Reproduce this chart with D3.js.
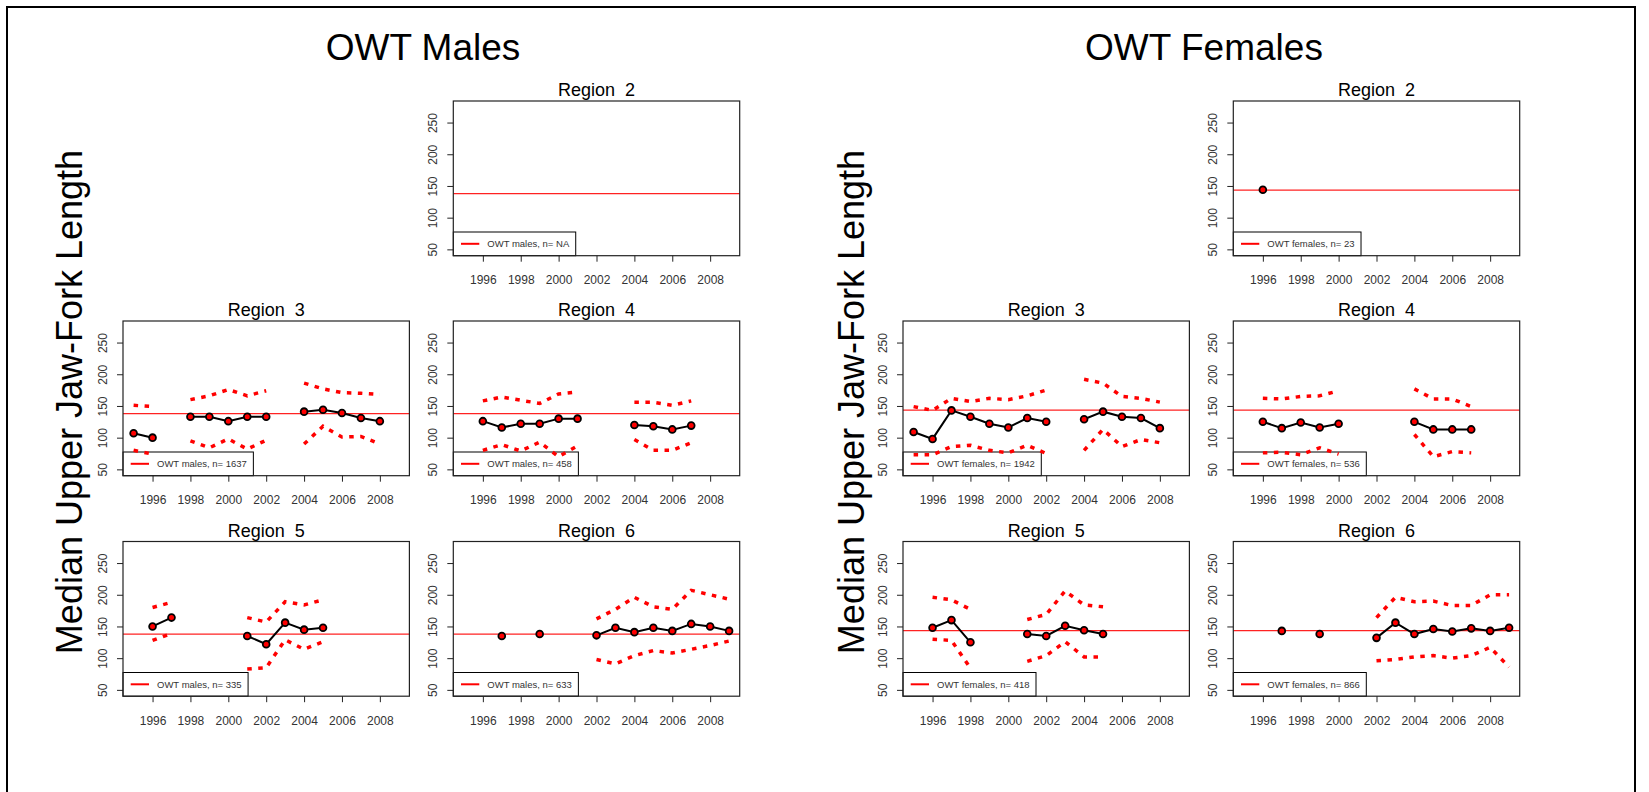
<!DOCTYPE html>
<html>
<head>
<meta charset="utf-8">
<script src="https://cdn.jsdelivr.net/npm/d3@7"></script>
<style>
  html, body { margin: 0; padding: 0; background: #fff; }
  svg { display: block; font-family: "Liberation Sans", Arial, sans-serif; }
</style>
</head>
<body>
<script>
// ---------------- DATA ----------------
const years = [1995,1996,1997,1998,1999,2000,2001,2002,2003,2004,2005,2006,2007,2008,2009];
const xTicks = [1996,1998,2000,2002,2004,2006,2008];
const yTicks = [50,100,150,200,250];
const groupTitles = ["OWT Males", "OWT Females"];
const yLabel = "Median Upper Jaw-Fork Length";
const refMales = 138;
const refFemales = 143.5;

const N = null;
// Males
const mR2Median = [N,N,N,N,N,N,N,N,N,N,N,N,N,N,N];
const mR2Upper  = [N,N,N,N,N,N,N,N,N,N,N,N,N,N,N];
const mR2Lower  = [N,N,N,N,N,N,N,N,N,N,N,N,N,N,N];
const mR3Median = [107,100,N,133,133,126,133,133,N,141,144,139,131,126,N];
const mR3Upper  = [151,149,N,160,166,176,166,174,N,186,177,171,170,168,N];
const mR3Lower  = [80,74,N,95,84,98,82,96,N,90,118,101,102,90,N];
const mR4Median = [N,126,116,122,122,130,130,N,N,120,118,113,119,N,N];
const mR4Upper  = [N,158,164,159,154,169,172,N,N,156,156,151,158,N,N];
const mR4Lower  = [N,80,89,79,93,70,87,N,N,97,80,80,92,N,N];
const mR5Median = [N,150,164,N,N,N,135,122,156,145,148,N,N,N,N];
const mR5Upper  = [N,180,188,N,N,N,164,157,189,184,192,N,N,N,N];
const mR5Lower  = [N,128,139,N,N,N,83,85,129,114,126,N,N,N,N];
const mR6Median = [N,N,135,N,138,N,N,136,148,141,148,143,154,150,143];
const mR6Upper  = [N,N,N,N,N,N,N,162,177,196,181,177,207,200,193];
const mR6Lower  = [N,N,N,N,N,N,N,98,91,104,112,108,114,120,127];
// Females
const fR2Median = [N,144,N,N,N,N,N,N,N,N,N,N,N,N,N];
const fR2Upper  = [N,N,N,N,N,N,N,N,N,N,N,N,N,N,N];
const fR2Lower  = [N,N,N,N,N,N,N,N,N,N,N,N,N,N,N];
const fR3Median = [109,98,143,133,122,116,131,125,N,129,141,133,131,115,N];
const fR3Upper  = [149,143,162,157,162,160,166,175,N,192,186,165,162,156,N];
const fR3Lower  = [73,73,86,88,80,76,88,75,N,80,113,86,97,92,N];
const fR4Median = [N,125,115,124,116,122,N,N,N,125,113,113,113,N,N];
const fR4Upper  = [N,162,161,165,166,174,N,N,N,177,161,161,149,N,N];
const fR4Lower  = [N,76,77,73,84,74,N,N,N,105,70,78,76,N,N];
const fR5Median = [N,148,160,125,N,N,138,135,151,144,138,N,N,N,N];
const fR5Upper  = [N,196,192,177,N,N,161,169,206,184,181,N,N,N,N];
const fR5Lower  = [N,130,128,84,N,N,95,104,126,102,102,N,N,N,N];
const fR6Median = [N,N,143,N,138,N,N,132,156,138,146,142,147,143,148];
const fR6Upper  = [N,N,N,N,N,N,N,164,196,189,190,183,183,200,200];
const fR6Lower  = [N,N,N,N,N,N,N,96,98,102,104,100,104,117,86];

const regionNames = ["Region  2","Region  3","Region  4","Region  5","Region  6"];
const maleN   = ["NA","1637","458","335","633"];
const femaleN = ["23","1942","536","418","866"];

// ---------------- LAYOUT ----------------
const W = 1649, H = 792;
const pw = 286.4, ph = 154.7;
const colLeft = [123, 453.3, 903, 1233.3];
const rowTop = [101, 321, 541.5];

const panels = [
  {r:0, col:1, row:0, med:mR2Median, up:mR2Upper, lo:mR2Lower, ref:refMales, leg:"OWT males, n= " + maleN[0]},
  {r:1, col:0, row:1, med:mR3Median, up:mR3Upper, lo:mR3Lower, ref:refMales, leg:"OWT males, n= " + maleN[1]},
  {r:2, col:1, row:1, med:mR4Median, up:mR4Upper, lo:mR4Lower, ref:refMales, leg:"OWT males, n= " + maleN[2]},
  {r:3, col:0, row:2, med:mR5Median, up:mR5Upper, lo:mR5Lower, ref:refMales, leg:"OWT males, n= " + maleN[3]},
  {r:4, col:1, row:2, med:mR6Median, up:mR6Upper, lo:mR6Lower, ref:refMales, leg:"OWT males, n= " + maleN[4]},
  {r:0, col:3, row:0, med:fR2Median, up:fR2Upper, lo:fR2Lower, ref:refFemales, leg:"OWT females, n= " + femaleN[0]},
  {r:1, col:2, row:1, med:fR3Median, up:fR3Upper, lo:fR3Lower, ref:refFemales, leg:"OWT females, n= " + femaleN[1]},
  {r:2, col:3, row:1, med:fR4Median, up:fR4Upper, lo:fR4Lower, ref:refFemales, leg:"OWT females, n= " + femaleN[2]},
  {r:3, col:2, row:2, med:fR5Median, up:fR5Upper, lo:fR5Lower, ref:refFemales, leg:"OWT females, n= " + femaleN[3]},
  {r:4, col:3, row:2, med:fR6Median, up:fR6Upper, lo:fR6Lower, ref:refFemales, leg:"OWT females, n= " + femaleN[4]}
];

const svg = d3.select("body").append("svg").attr("width", W).attr("height", H);
svg.append("rect").attr("width", W).attr("height", H).attr("fill", "#fff");

// outer frame
svg.append("rect").attr("x", 7).attr("y", 7).attr("width", 1628).attr("height", 900)
  .attr("fill", "none").attr("stroke", "#000").attr("stroke-width", 2);

// group titles
const titleX = [423, 1204];
groupTitles.forEach((t, i) => {
  svg.append("text").attr("x", titleX[i]).attr("y", 60).attr("text-anchor", "middle")
    .attr("font-size", 37).attr("fill", "#000").text(t);
});

// big y labels
[82, 864].forEach(bx => {
  svg.append("text").attr("transform", `translate(${bx},402) rotate(-90)`)
    .attr("text-anchor", "middle").attr("font-size", 36).attr("fill", "#000").text(yLabel);
});

const x = d3.scaleLinear().domain([1994.44, 2009.56]).range([0, pw]);
const y = d3.scaleLinear().domain([40, 284]).range([ph, 0]);

panels.forEach(p => {
  const g = svg.append("g").attr("transform", `translate(${colLeft[p.col]},${rowTop[p.row]})`);

  // title
  g.append("text").attr("x", pw / 2).attr("y", -5).attr("text-anchor", "middle")
    .attr("font-size", 18).attr("fill", "#000")
    .style("white-space", "pre").text(regionNames[p.r]);

  // x axis
  const xa = g.append("g").attr("transform", `translate(0,${ph})`)
    .call(d3.axisBottom(x).tickValues(xTicks).tickFormat(d3.format("d")).tickSize(6).tickPadding(13.8));
  xa.select(".domain").remove();
  xa.selectAll("line").attr("stroke", "#222");
  xa.selectAll("text").attr("font-size", 12).attr("fill", "#333").attr("font-family", null);

  // y axis
  const ya = g.append("g").call(d3.axisLeft(y).tickValues(yTicks).tickSize(6));
  ya.select(".domain").remove();
  ya.selectAll("line").attr("stroke", "#222");
  ya.selectAll("text").attr("font-size", 12).attr("fill", "#333").attr("font-family", null)
    .attr("x", 0).attr("dy", 0).attr("text-anchor", "middle")
    .attr("transform", "translate(-16,0) rotate(-90)");

  // reference line
  g.append("line").attr("x1", 0).attr("x2", pw).attr("y1", y(p.ref)).attr("y2", y(p.ref))
    .attr("stroke", "#f22").attr("stroke-width", 1.3);

  // legend
  const lg = g.append("g").attr("transform", `translate(0,${ph - 23.7})`);
  const lrect = lg.append("rect").attr("x", 0).attr("y", 0).attr("height", 23.7)
    .attr("fill", "#fff").attr("stroke", "#000").attr("stroke-width", 1);
  lg.append("line").attr("x1", 7.7).attr("x2", 26).attr("y1", 11.8).attr("y2", 11.8)
    .attr("stroke", "red").attr("stroke-width", 2);
  const lt = lg.append("text").attr("x", 34).attr("y", 15.2).attr("font-size", 9.5)
    .attr("fill", "#333").text(p.leg);
  const tw = lt.node().getComputedTextLength();
  lrect.attr("width", 34 + tw + 6.5);

  const mk = arr => years.map((yr, i) => ({yr, v: arr[i]}));
  const line = d3.line().defined(d => d.v != null).x(d => x(d.yr)).y(d => y(d.v));

  // confidence (dotted) lines
  [p.up, p.lo].forEach(arr => {
    g.append("path").attr("d", line(mk(arr))).attr("fill", "none")
      .attr("stroke", "red").attr("stroke-width", 3.5).attr("stroke-dasharray", "4.5,6.5");
  });

  // median line
  g.append("path").attr("d", line(mk(p.med))).attr("fill", "none")
    .attr("stroke", "#000").attr("stroke-width", 2);

  // points
  g.selectAll("circle.pt").data(mk(p.med).filter(d => d.v != null)).enter()
    .append("circle").attr("class", "pt")
    .attr("cx", d => x(d.yr)).attr("cy", d => y(d.v)).attr("r", 3.4)
    .attr("fill", "red").attr("stroke", "#000").attr("stroke-width", 1.8);

  // frame
  g.append("rect").attr("x", 0).attr("y", 0).attr("width", pw).attr("height", ph)
    .attr("fill", "none").attr("stroke", "#222").attr("stroke-width", 1.2);
});
</script>
</body>
</html>
